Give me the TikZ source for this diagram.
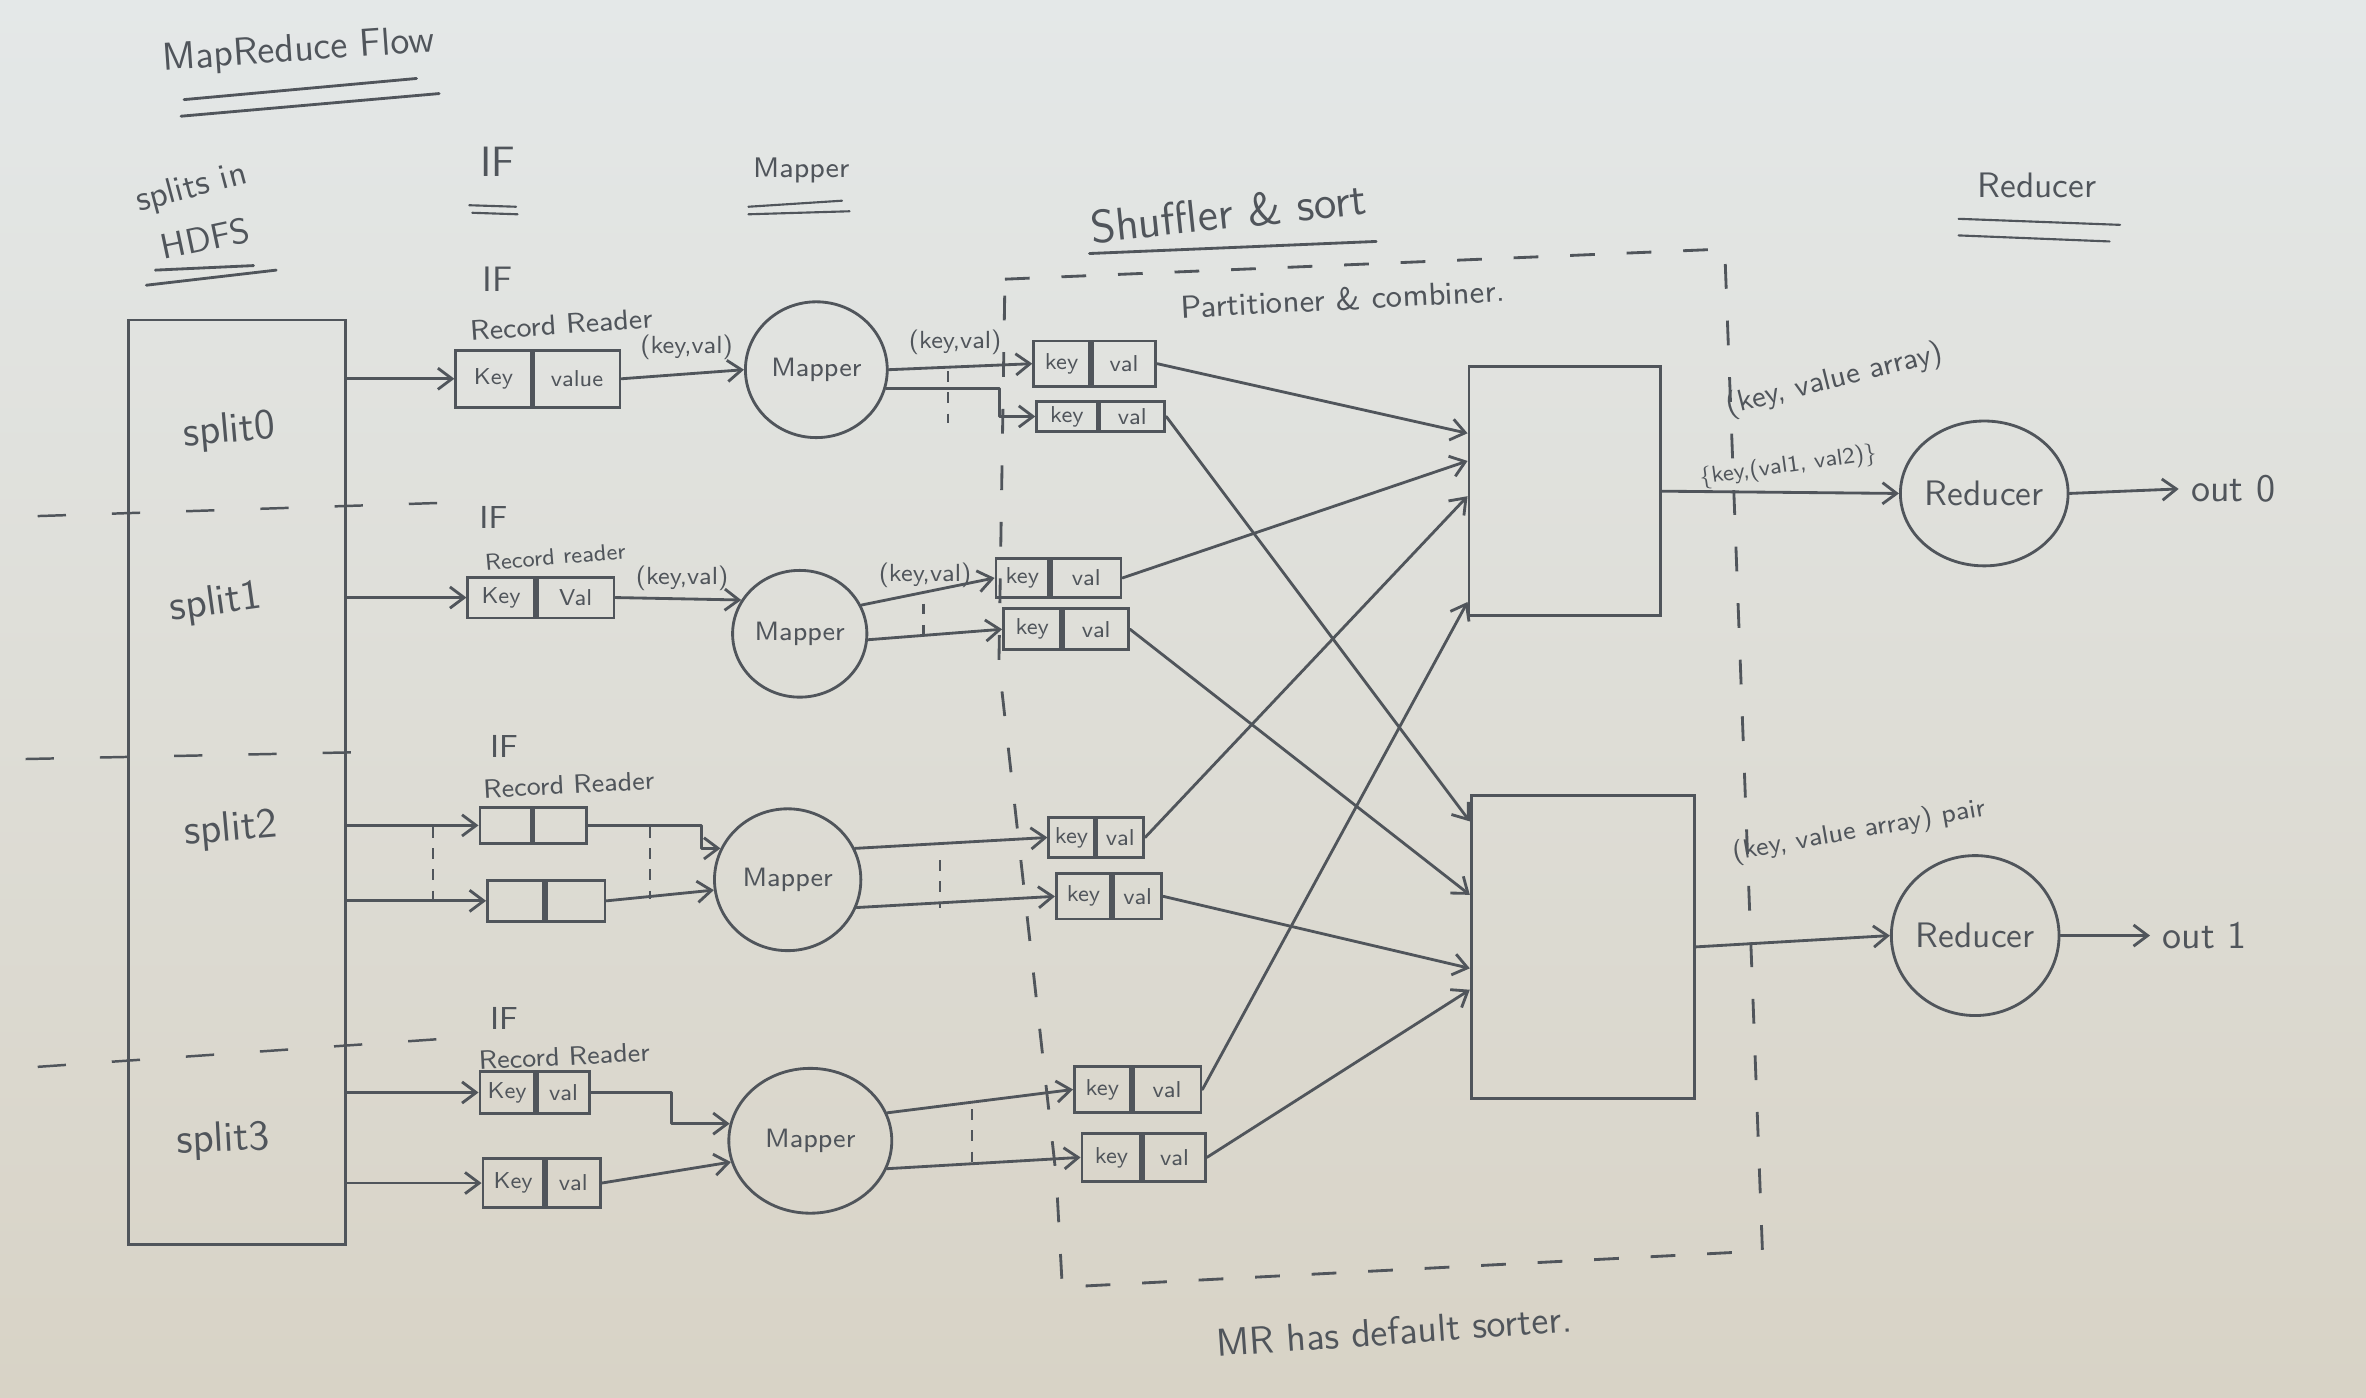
\documentclass[tikz,border=0pt]{standalone}
\usetikzlibrary{arrows.meta,calc,shapes.geometric}
\definecolor{pencil}{HTML}{50555B}
\definecolor{paperTop}{HTML}{E4E8E8}
\definecolor{paperBot}{HTML}{D8D3C6}
\newcommand\myfs[1]{\fontsize{#1}{#1}\selectfont}
\newcommand\kvbox[8]{%
  \node[cell,anchor=east,minimum width=#4*0.015cm,minimum height=#6*0.015cm] (#1k) at (#2,#3) {#7};
  \node[cell,anchor=west,minimum width=#5*0.015cm,minimum height=#6*0.015cm] (#1v) at (#2,#3) {#8};}
\begin{document}
\begin{tikzpicture}[x=0.015cm,y=-0.015cm,font=\sffamily,
  every node/.append style={text=pencil},
  ln/.style={draw=pencil,line width=0.8pt,line cap=round,line join=round},
  arr/.style={ln,-{Straight Barb[length=4pt,width=6pt]}},
  cell/.style={draw=pencil,line width=0.8pt,inner sep=0pt,font=\sffamily\myfs{6.5}},
  proc/.style={ellipse,draw=pencil,line width=0.8pt,inner sep=0pt},
  part/.style={rectangle,draw=pencil,line width=0.8pt,inner sep=0pt},
  sep/.style={draw=pencil,line width=0.7pt,dash pattern=on 8pt off 13pt},
  tick/.style={draw=pencil,line width=0.6pt,dash pattern=on 3pt off 3pt},
  dbox/.style={draw=pencil,line width=0.8pt,dash pattern=on 7pt off 9pt},
  lbl/.style={font=\sffamily\myfs{7},inner sep=1pt},
  rr/.style={font=\sffamily\myfs{7.5},inner sep=0.5pt},
  iflbl/.style={font=\sffamily\myfs{9},inner sep=0.5pt},
  splitlbl/.style={font=\sffamily\myfs{12},inner sep=1pt}]

\shade[top color=paperTop,bottom color=paperBot] (0,0) rectangle (1568,926);
\useasboundingbox (0,0) rectangle (1568,926);

% ---------- headers ----------
\node[rotate=4,font=\sffamily\myfs{11}] (title) at (198,34) {MapReduce Flow};
\draw[ln] (122,66) -- (276,52);
\draw[ln] (120,77) -- (291,62);
\node[rotate=15,font=\sffamily\myfs{10}] (hsplits) at (127,125) {splits in};
\node[rotate=12,font=\sffamily\myfs{10}] (hhdfs) at (136,158) {HDFS};
\draw[ln] (103,179) -- (168,176);
\draw[ln] (97,189) -- (183,179);
\node[font=\sffamily\myfs{12}] (hif) at (330,107) {IF};
\draw[ln,line width=0.6pt] (311,136) -- (342,137);
\draw[ln,line width=0.6pt] (313,141) -- (343,142);
\node[font=\sffamily\myfs{8}] (hmap) at (531,113) {Mapper};
\draw[ln,line width=0.6pt] (496,137) -- (558,133);
\draw[ln,line width=0.6pt] (496,142) -- (563,140);
\node[rotate=6,font=\sffamily\myfs{13}] (hshuf) at (814,141) {Shuffler \& sort};
\draw[ln] (722,168) -- (912,160);
\node[rotate=3,font=\sffamily\myfs{9}] (hpart) at (890,198) {Partitioner \& combiner.};
\node[font=\sffamily\myfs{10}] (hred) at (1350,123) {Reducer};
\draw[ln,line width=0.6pt] (1298,145) -- (1405,149);
\draw[ln,line width=0.6pt] (1298,156) -- (1398,160);
\node[rotate=4,font=\sffamily\myfs{11}] (note) at (924,882) {MR has default sorter.};

% ---------- shuffle & sort region ----------
\draw[dbox] (666,185) -- (1143,165) -- (1168,829) -- (704,853) -- (700,780) -- (662,440) -- cycle;

% ---------- splits in HDFS ----------
\node[part,minimum width=144*0.015cm,minimum height=613*0.015cm] (hdfs) at (157,518.5) {};
\node[splitlbl,rotate=5] (s0) at (152,286) {split0};
\node[splitlbl,rotate=8] (s1) at (143,400) {split1};
\node[splitlbl,rotate=5] (s2) at (153,550) {split2};
\node[splitlbl,rotate=3] (s3) at (148,756) {split3};
\draw[sep] (25,342) -- (300,333);
\draw[sep] (17,503) -- (262,498);
\draw[sep] (25,707) -- (300,688);

% ---------- row 0 ----------
\node[iflbl,font=\sffamily\myfs{10}] (if0) at (330,185) {IF};
\node[rr,font=\sffamily\myfs{8},rotate=4] (rr0) at (372,215) {Record Reader};
\kvbox{IFa}{353}{251}{50}{57}{38}{Key}{value}
\draw[arr] (hdfs.east |- IFak.west) -- (IFak.west);
\node[lbl] (kv0a) at (455,230) {(key,val)};
\node[proc,minimum width=94*0.015cm,minimum height=90*0.015cm,font=\sffamily\myfs{7.5}] (M0) at (541,245) {Mapper};
\draw[arr] (IFav.east) -- (M0.west);
\node[lbl] (kv0b) at (633,227) {(key,val)};
\kvbox{A0}{723}{241}{37}{42}{30}{key}{val}
\kvbox{B0}{728}{276}{40}{43}{20}{key}{val}
\draw[arr] (M0.east) -- (A0k.west);
\draw[arr] (M0.-15) -| ([xshift=-0.36cm]B0k.west) -- (B0k.west);
\draw[tick] (628,246) -- (628,280);

% ---------- row 1 ----------
\node[iflbl] (if1) at (327,343) {IF};
\node[lbl,font=\sffamily\myfs{6.5},rotate=5] (rr1) at (368,369) {Record reader};
\kvbox{IFb}{355}{396}{44}{51}{27}{Key}{Val}
\draw[arr] (hdfs.east |- IFbk.west) -- (IFbk.west);
\node[lbl] (kv1a) at (452,383) {(key,val)};
\node[proc,minimum width=89*0.015cm,minimum height=84*0.015cm,font=\sffamily\myfs{7.5}] (M1) at (530,420) {Mapper};
\draw[arr] (IFbv.east) -- (M1.150);
\node[lbl] (kv1b) at (613,381) {(key,val)};
\kvbox{A1}{696}{383}{35}{46}{26}{key}{val}
\kvbox{B1}{704}{417}{38}{43}{27}{key}{val}
\draw[arr] (M1.25) -- (A1k.west);
\draw[arr] (M1.-5) -- (B1k.west);
\draw[tick] (612,400) -- (612,425);

% ---------- row 2 ----------
\node[iflbl] (if2) at (334,495) {IF};
\node[rr,rotate=3] (rr2) at (377,520) {Record Reader};
\kvbox{Ca}{353}{547}{34}{35}{24}{}{}
\kvbox{Cb}{361}{597}{37}{39}{27}{}{}
\draw[arr] (hdfs.east |- Cak.west) -- (Cak.west);
\draw[arr] (hdfs.east |- Cbk.west) -- (Cbk.west);
\node[proc,minimum width=97*0.015cm,minimum height=94*0.015cm,font=\sffamily\myfs{7.5}] (M2) at (522,583) {Mapper};
\draw[arr] (Cav.east) -- ++(75,0) |- (M2.155);
\draw[arr] (Cbv.east) -- (M2.188);
\draw[tick] (287,548) -- (287,602);
\draw[tick] (431,548) -- (431,596);
\kvbox{A2}{726}{555}{30}{31}{26}{key}{val}
\kvbox{B2}{737}{594}{36}{32}{30}{key}{val}
\draw[arr] (M2.25) -- (A2k.west);
\draw[arr] (M2.-22) -- (B2k.west);
\draw[tick] (623,570) -- (623,602);

% ---------- row 3 ----------
\node[iflbl] (if3) at (334,675) {IF};
\node[rr,rotate=3] (rr3) at (374,700) {Record Reader};
\kvbox{Da}{355}{724}{36}{35}{28}{Key}{val}
\kvbox{Db}{361}{784}{40}{36}{32}{Key}{val}
\draw[arr] (hdfs.east |- Dak.west) -- (Dak.west);
\draw[arr] (hdfs.east |- Dbk.west) -- (Dbk.west);
\node[proc,minimum width=108*0.015cm,minimum height=96*0.015cm,font=\sffamily\myfs{7.5}] (M3) at (537,756) {Mapper};
\draw[arr] (Dav.east) -- ++(53,0) |- (M3.168);
\draw[arr] (Dbv.east) -- (M3.195);
\kvbox{A3}{750}{722}{37}{45}{31}{key}{val}
\kvbox{B3}{757}{767}{39}{41}{32}{key}{val}
\draw[arr] (M3.20) -- (A3k.west);
\draw[arr] (M3.-20) -- (B3k.west);
\draw[tick] (644,735) -- (644,771);

% ---------- partitions ----------
\node[part,minimum width=127*0.015cm,minimum height=165*0.015cm] (P0) at (1037,325.5) {};
\node[part,minimum width=148*0.015cm,minimum height=201*0.015cm] (P1) at (1049,627.5) {};
\draw[arr] (A0v.east) -- ($(P0.north west)!0.27!(P0.south west)$);
\draw[arr] (A1v.east) -- ($(P0.north west)!0.38!(P0.south west)$);
\draw[arr] (A2v.east) -- ($(P0.north west)!0.52!(P0.south west)$);
\draw[arr] (A3v.east) -- ($(P0.north west)!0.94!(P0.south west)$);
\draw[arr] (B0v.east) -- ($(P1.north west)!0.09!(P1.south west)$);
\draw[arr] (B1v.east) -- ($(P1.north west)!0.33!(P1.south west)$);
\draw[arr] (B2v.east) -- ($(P1.north west)!0.57!(P1.south west)$);
\draw[arr] (B3v.east) -- ($(P1.north west)!0.64!(P1.south west)$);

% ---------- reducers ----------
\node[rotate=14,font=\sffamily\myfs{8.5}] (kva0) at (1216,252) {(key, value array)};
\node[rotate=8,font=\sffamily\myfs{6.5}] (kvb0) at (1185,309) {\{key,(val1, val2)\}};
\node[proc,minimum width=107*0.015cm,minimum height=96*0.015cm,font=\sffamily\myfs{10}] (R0) at (1315,327) {Reducer};
\draw[arr] (P0.east) -- (R0.west);
\node[font=\sffamily\myfs{11}] (o0) at (1480,324) {out 0};
\draw[arr] (R0.east) -- (o0.west);

\node[rotate=10,font=\sffamily\myfs{7.5}] (kva1) at (1232,551) {(key, value array) pair};
\node[proc,minimum width=102*0.015cm,minimum height=106*0.015cm,font=\sffamily\myfs{10}] (R1) at (1309,620) {Reducer};
\draw[arr] (P1.east) -- (R1.west);
\node[font=\sffamily\myfs{11}] (o1) at (1461,620) {out 1};
\draw[arr] (R1.east) -- (o1.west);
\end{tikzpicture}
\end{document}
